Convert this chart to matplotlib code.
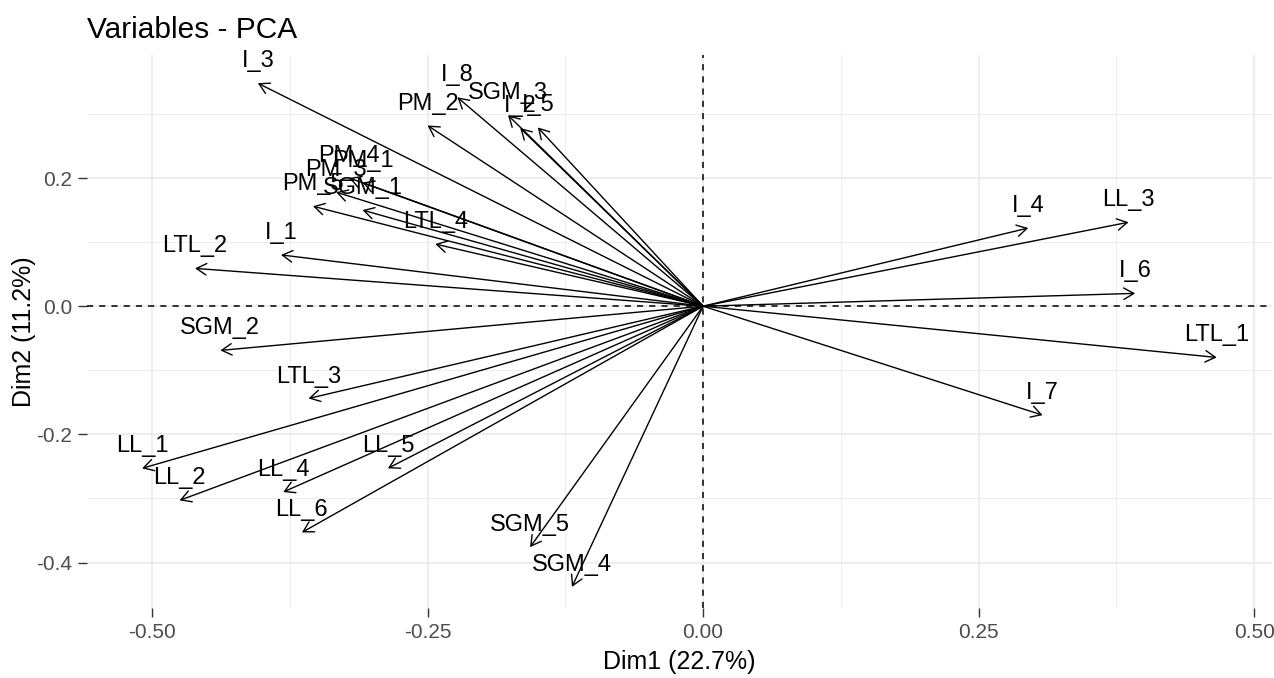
import matplotlib.pyplot as plt
import numpy as np

plt.rcParams['font.family'] = ['Liberation Sans', 'DejaVu Sans']

# coordenadas das variaveis (Dim1, Dim2)
variaveis = ['I_3', 'I_8', 'PM_2', 'SGM_3', 'I_2', 'I_5',
             'PM_4', 'PM_1', 'PM_3', 'PM_5', 'SGM_1', 'LTL_4',
             'I_1', 'LTL_2', 'SGM_2', 'LTL_3',
             'LL_1', 'LL_2', 'LL_4', 'LL_5', 'LL_6',
             'SGM_5', 'SGM_4',
             'I_4', 'LL_3', 'I_6', 'LTL_1', 'I_7']
dim1 = [-0.404, -0.223, -0.250, -0.177, -0.166, -0.150,
        -0.321, -0.309, -0.333, -0.354, -0.309, -0.243,
        -0.383, -0.461, -0.438, -0.358,
        -0.509, -0.475, -0.381, -0.286, -0.364,
        -0.157, -0.119,
        0.295, 0.386, 0.392, 0.466, 0.308]
dim2 = [0.348, 0.326, 0.282, 0.298, 0.278, 0.279,
        0.200, 0.193, 0.178, 0.156, 0.150, 0.097,
        0.080, 0.059, -0.069, -0.144,
        -0.253, -0.303, -0.290, -0.253, -0.353,
        -0.376, -0.438,
        0.122, 0.131, 0.020, -0.080, -0.170]

xticks = [-0.50, -0.25, 0.00, 0.25, 0.50]
yticks = [-0.4, -0.2, 0.0, 0.2]

fig = plt.figure(figsize=(12.74, 6.78), dpi=100)
ax = fig.add_axes([0.0683, 0.1032, 0.930, 0.8157])

ax.set_xlim(-0.559, 0.516)
ax.set_ylim(-0.471, 0.392)

# grade estilo theme_minimal
ax.set_xticks(xticks)
ax.set_yticks(yticks)
ax.set_xticks([-0.375, -0.125, 0.125, 0.375], minor=True)
ax.set_yticks([-0.3, -0.1, 0.1, 0.3], minor=True)
ax.grid(True, which='major', color='#EBEBEB', lw=1.2, zorder=0)
ax.grid(True, which='minor', color='#EBEBEB', lw=0.6, zorder=0)
ax.set_axisbelow(True)
for s in ax.spines.values():
    s.set_visible(False)

ax.set_xticklabels(['-0.50', '-0.25', '0.00', '0.25', '0.50'])
ax.set_yticklabels(['-0.4', '-0.2', '0.0', '0.2'])
ax.tick_params(which='major', length=6.5, width=1, color='#333333',
               labelsize=15, labelcolor='#4D4D4D', pad=4)
ax.tick_params(which='minor', length=0)

ax.axhline(0, color='black', lw=1.1, ls=(0, (4, 4)), zorder=1)
ax.axvline(0, color='black', lw=1.1, ls=(0, (4, 4)), zorder=1)

for nome, x, y in zip(variaveis, dim1, dim2):
    ax.annotate('', xy=(x, y), xytext=(0, 0),
                arrowprops=dict(arrowstyle='->,head_length=0.4,head_width=0.23',
                                mutation_scale=18, lw=1.0, color='black',
                                shrinkA=0, shrinkB=0),
                zorder=3)
    t = ax.annotate(nome, xy=(x, y), xytext=(0, 11.5), textcoords='offset points',
                    ha='center', va='baseline', fontsize=17, color='black',
                    zorder=4, annotation_clip=False)
    t.set_clip_on(True)

ax.set_title('Variables - PCA', loc='left', fontsize=21.5, pad=12)
ax.set_xlabel('Dim1 (22.7%)', fontsize=18, labelpad=6)
ax.set_ylabel('Dim2 (11.2%)', fontsize=18, labelpad=0)

plt.savefig('out.png', dpi=100)
